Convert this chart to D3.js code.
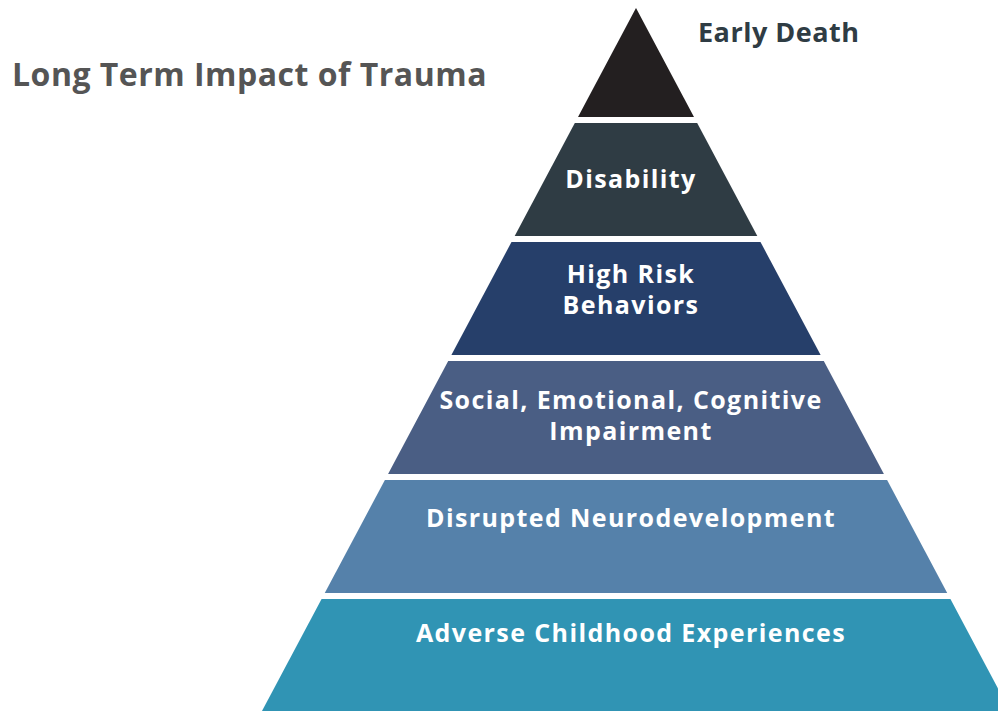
<!DOCTYPE html>
<html>
<head>
<meta charset="utf-8">
<script src="https://cdn.jsdelivr.net/npm/d3@7"></script>
<style>
  html, body { margin: 0; padding: 0; background: #ffffff; }
  svg { display: block; }
</style>
</head>
<body>
<svg id="chart" width="998" height="711"></svg>
<script>
// ---- Data (top of pyramid first) ----
const title = "Long Term Impact of Trauma";
const levels = [
  "Early Death",
  "Disability",
  "High Risk Behaviors",
  "Social, Emotional, Cognitive Impairment",
  "Disrupted Neurodevelopment",
  "Adverse Childhood Experiences"
];
const labelLines = [
  ["Early Death"],
  ["Disability"],
  ["High Risk", "Behaviors"],
  ["Social, Emotional, Cognitive", "Impairment"],
  ["Disrupted Neurodevelopment"],
  ["Adverse Childhood Experiences"]
];
const colors = ["#231f20", "#2f3c44", "#263f6a", "#4a5e84", "#5581aa", "#3094b4"];

// ---- Layout (positions kept separate from data) ----
const svg = d3.select("#chart");
const apexX = 636, apexY = 8, baseY = 711, baseHalf = 374;
const textCx = 631;
const firstBaselineOffset = [0, 65, 41, 48, 47, 43]; // from band top
const lineHeight = 31;

const y = d3.scaleBand().domain(levels).range([4, 712]).paddingInner(6 / 119).paddingOuter(0);
const half = d3.scaleLinear().domain([apexY, baseY]).range([0, baseHalf]);

const layers = svg.append("g").selectAll("g.layer")
  .data(levels)
  .join("g")
  .attr("class", "layer");

layers.append("path")
  .attr("fill", (d, i) => colors[i])
  .attr("d", (d, i) => {
    const y0 = Math.max(y(d), apexY);
    const y1 = i === levels.length - 1 ? baseY : Math.min(y(d) + y.bandwidth(), baseY);
    const h0 = half(y0), h1 = half(y1);
    return d3.line()([
      [apexX - h0, y0], [apexX + h0, y0],
      [apexX + h1, y1], [apexX - h1, y1]
    ]) + "Z";
  });

const fontFam = "'Open Sans', 'Lato', sans-serif";

// inside labels
layers.filter((d, i) => i > 0).each(function(d) {
  const i = levels.indexOf(d);
  const lines = labelLines[i];
  const t = d3.select(this).append("text")
    .attr("text-anchor", "middle")
    .attr("fill", "#ffffff")
    .attr("font-family", fontFam)
    .attr("font-weight", 700)
    .attr("font-size", 25)
    .attr("letter-spacing", 1.4);
  lines.forEach((ln, k) => {
    t.append("tspan")
      .attr("x", textCx)
      .attr("y", y(d) + firstBaselineOffset[i] + k * lineHeight)
      .text(ln);
  });
});

// top label outside
svg.append("text")
  .attr("x", 698).attr("y", 42)
  .attr("fill", "#2f3c44")
  .attr("font-family", fontFam)
  .attr("font-weight", 700)
  .attr("font-size", 27)
  .attr("letter-spacing", 0.5)
  .text(labelLines[0][0]);

// title
svg.append("text")
  .attr("x", 12).attr("y", 86)
  .attr("fill", "#555555")
  .attr("font-family", fontFam)
  .attr("font-weight", 700)
  .attr("font-size", 32)
  .attr("letter-spacing", 0.5)
  .text(title);
</script>
</body>
</html>
